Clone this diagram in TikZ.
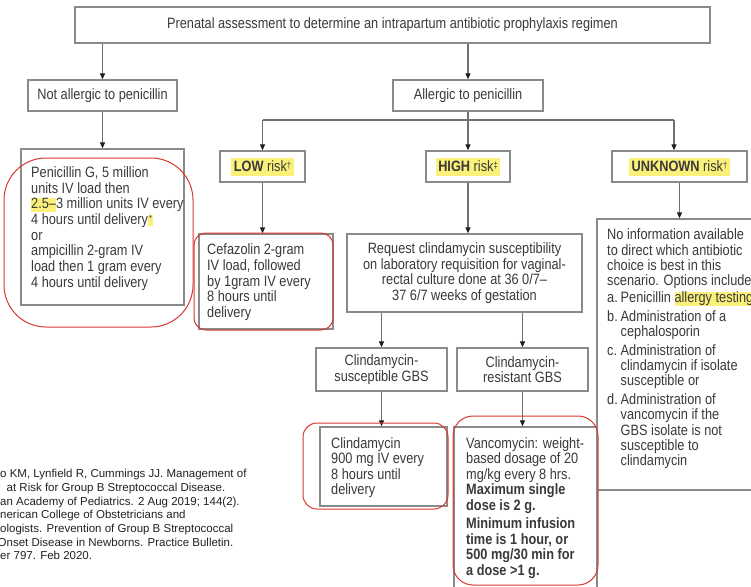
\documentclass[tikz,border=0pt]{standalone}
\usepackage{fontspec}
\usetikzlibrary{arrows.meta}
\setmainfont{Liberation Sans}
\newfontfamily\cond[FakeStretch=0.85]{Liberation Sans}
\definecolor{boxc}{HTML}{8A8A8A}
\definecolor{linec}{HTML}{707070}
\definecolor{tipc}{HTML}{202020}
\definecolor{txtc}{HTML}{3A3A3A}
\definecolor{redc}{HTML}{D93A30}
\definecolor{hly}{HTML}{FAF07A}
\definecolor{refc}{HTML}{222222}
\newcommand\fst{\rule{0pt}{11pt}}
\newcommand\rst{\rule{0pt}{9pt}}
\newcommand\hlt[1]{{\setlength{\fboxsep}{0pt}\colorbox{hly}{\rule[-3.5pt]{0pt}{14pt}#1}}}
\newcommand\hlr[1]{{\setlength{\fboxsep}{0pt}\colorbox{hly}{\rule[-4pt]{0pt}{18pt}\hspace{2.5pt}#1\hspace{2.5pt}}}}
\newcommand\sdag[1]{\raisebox{3.5pt}{\fontsize{9}{9}\selectfont #1}}
\newcommand\hlstar{{\setlength{\fboxsep}{0pt}\colorbox{hly}{\rule[-1.5pt]{0pt}{10pt}\hspace{1pt}\raisebox{3pt}{\fontsize{9}{9}\selectfont *}\hspace{1pt}}}}
\begin{document}
\begin{tikzpicture}[x=1pt,y=-1pt,
  box/.style={draw=boxc, line width=1.3pt, inner sep=0pt, font=\cond\fontsize{15}{15.6}\selectfont, text=txtc, align=center},
  txt/.style={inner sep=0pt, anchor=north west, align=left, text=txtc, font=\cond\fontsize{15}{15.7}\selectfont},
  ln/.style={draw=linec, line width=1.2pt},
  arr/.style={draw=linec, line width=1.2pt, -{Triangle[length=6pt,width=5pt,color=tipc]}},
  redr/.style={draw=redc, line width=1pt},
  reft/.style={inner sep=0pt, anchor=north west, align=left, text=refc, font=\fontsize{11.5}{13.7}\selectfont}]
\useasboundingbox (0,0) rectangle (751,586);
\clip (0,0) rectangle (751,586);
\fill[white] (0,0) rectangle (751,586);

% boxes
\node[box, minimum width=635pt, minimum height=36pt] (top) at (392.5,25) {Prenatal assessment to determine an intrapartum antibiotic prophylaxis regimen};
\node[box, minimum width=149pt, minimum height=31pt] (na) at (102.5,95.5) {Not allergic to penicillin};
\node[box, minimum width=150pt, minimum height=31pt] (al) at (468,95.5) {Allergic to penicillin};
\node[box, minimum width=85pt, minimum height=31pt] (low) at (262.5,166.5) {\hlr{\textbf{LOW} risk\sdag{†}}};
\node[box, minimum width=84pt, minimum height=31pt] (high) at (468,166.5) {\hlr{\textbf{HIGH} risk\sdag{‡}}};
\node[box, minimum width=135pt, minimum height=31pt] (unk) at (679.5,166.5) {\hlr{\textbf{UNKNOWN} risk\sdag{†}}};
\node[box, minimum width=163pt, minimum height=156pt] (pen) at (102.5,227) {};
\node[box, minimum width=134pt, minimum height=95pt] (cef) at (266,281.5) {};
\node[box, minimum width=235pt, minimum height=78pt] (req) at (464.5,273) {Request clindamycin susceptibility\\on laboratory requisition for vaginal-\\rectal culture done at 36 0/7–\\37 6/7 weeks of gestation};
\node[box, minimum width=170pt, minimum height=271pt] (ni) at (682,354.5) {};
\node[box, minimum width=131pt, minimum height=43pt] (sus) at (381.5,369.5) {Clindamycin-\\susceptible GBS};
\node[box, minimum width=131pt, minimum height=43pt] (res) at (522.5,369.5) {Clindamycin-\\resistant GBS};
\node[box, minimum width=127pt, minimum height=79pt] (cli) at (383.5,466.5) {};
\node[box, minimum width=143pt, minimum height=180pt] (van) at (525.5,517) {};

% texts
\node[txt] (pent) at (31,166.2) {\fst Penicillin G, 5 million\\units IV load then\\\hlt{2.5–}3 million units IV every\\4 hours until delivery\hlstar\\or\\ampicillin 2-gram IV\\load then 1 gram every\\4 hours until delivery};
\node[txt] (ceft) at (207,243.5) {\fst Cefazolin 2-gram\\IV load, followed\\by 1gram IV every\\8 hours until\\delivery};
\node[txt, font=\cond\fontsize{15}{15.4}\selectfont] (nit) at (607,228.5) {\fst No information available\\to direct which antibiotic\\choice is best in this\\scenario. Options include:\\[1.5pt]\makebox[13.5pt][l]{a.}Penicillin \hlt{allergy testing}\\[3pt]\makebox[13.5pt][l]{b.}Administration of a\\\hspace*{13.5pt}cephalosporin\\[3pt]\makebox[13.5pt][l]{c.}Administration of\\\hspace*{13.5pt}clindamycin if isolate\\\hspace*{13.5pt}susceptible or\\[3pt]\makebox[13.5pt][l]{d.}Administration of\\\hspace*{13.5pt}vancomycin if the\\\hspace*{13.5pt}GBS isolate is not\\\hspace*{13.5pt}susceptible to\\\hspace*{13.5pt}clindamycin};
\node[txt, font=\cond\fontsize{15}{15.6}\selectfont] (clit) at (331,436.8) {\fst Clindamycin\\900 mg IV every\\8 hours until\\delivery};
\node[txt, font=\cond\fontsize{15}{15.6}\selectfont] (vant) at (466,436.8) {\fst Vancomycin: weight-\\based dosage of 20\\mg/kg every 8 hrs.\\\textbf{Maximum single}\\\textbf{dose is 2 g.}\\[2.7pt]\textbf{Minimum infusion}\\\textbf{time is 1 hour, or}\\\textbf{500 mg/30 min for}\\\textbf{a dose >1 g.}};
\node[reft] (refs) at (0,468.5) {\rst o KM, Lynfield R, Cummings JJ. Management of\\\hspace*{6.5pt}at Risk for Group B Streptococcal Disease.\\an Academy of Pediatrics. 2 Aug 2019; 144(2).\\nerican College of Obstetricians and\\ologists. Prevention of Group B Streptococcal\\\hspace*{-2.5pt}Onset Disease in Newborns. Practice Bulletin.\\er 797. Feb 2020.};

% connectors
\draw[arr] (top.south -| na) -- (na.north);
\draw[arr] (top.south -| al) -- (al.north);
\coordinate (br) at (468,120);
\coordinate (brl) at (262.5,120);
\coordinate (bre) at (674,120);
\draw[ln] (al.south) -- (br);
\draw[ln] (brl) -- (bre);
\draw[arr] (brl) -- (low.north);
\draw[arr] (br) -- (high.north);
\draw[arr] (bre) -- (bre |- unk.north);
\draw[arr] (na.south) -- (pen.north);
\draw[arr] (low.south) -- (low.south |- cef.north);
\draw[arr] (high.south) -- (high.south |- req.north);
\draw[arr] (unk.south) -- (unk.south |- ni.north);
\draw[arr] (req.south -| sus) -- (sus.north);
\draw[arr] (req.south -| res) -- (res.north);
\draw[arr] (sus.south) -- (sus.south |- cli.north);
\draw[arr] (res.south) -- (res.south |- van.north);

% red outlines
\draw[redr, rounded corners=42pt] (4,158) rectangle (193,327);
\draw[redr, rounded corners=12pt] (194,233) rectangle (333,330);
\draw[redr, rounded corners=14pt] (303,423) rectangle (448,509);
\draw[redr, rounded corners=20pt] (453,416) rectangle (598,585);
\end{tikzpicture}
\end{document}
